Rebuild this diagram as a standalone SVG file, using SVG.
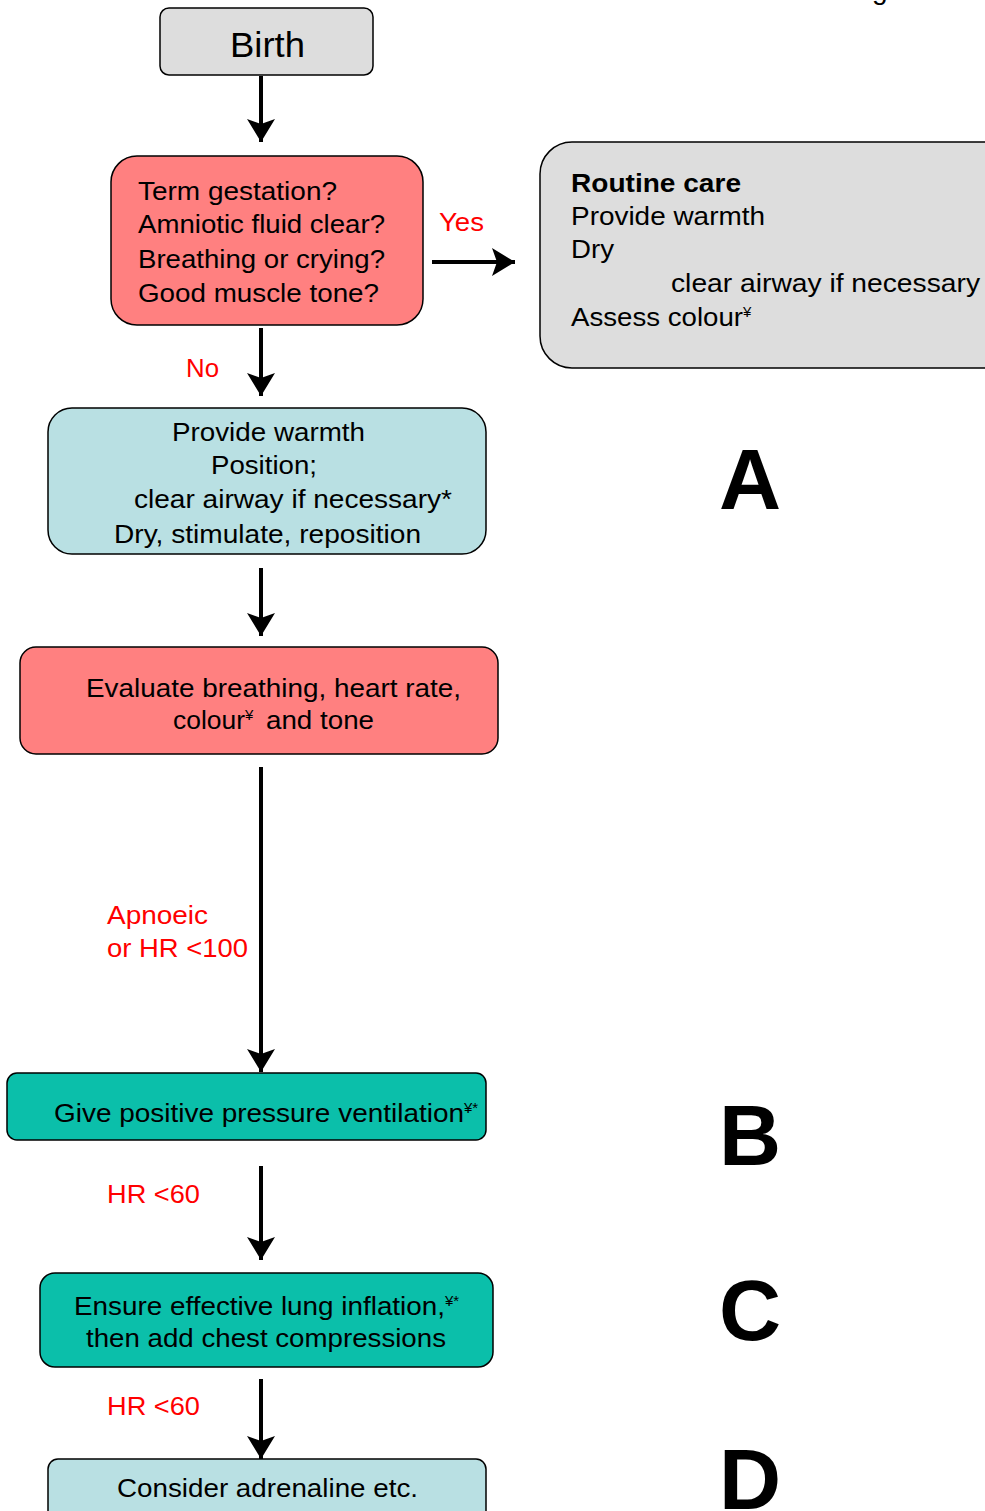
<svg xmlns="http://www.w3.org/2000/svg" width="985" height="1511" viewBox="0 0 985 1511">
<style>
text{font-family:"Liberation Sans",Arial,sans-serif;fill:#000;}
.t{font-size:26px;}
.r{fill:#ff0000;font-size:26px;}
.big{font-size:86px;font-weight:bold;}
.box{stroke:#000;stroke-width:1.5;}
.gray{fill:#dddddd;}
.red{fill:#ff8080;}
.blue{fill:#b9e0e3;}
.green{fill:#0bbfaa;}
.sup{font-size:15px;}
.conn{stroke:#000;stroke-width:4;fill:none;marker-end:url(#ah);}
</style>
<defs>
<marker id="ah" markerUnits="userSpaceOnUse" markerWidth="30" markerHeight="30" refX="23" refY="14" orient="auto">
<path d="M0,0 L23,14 L0,28 L5,14 Z" fill="#000"/>
</marker>
</defs>
<rect width="985" height="1511" fill="#fff"/>
<text x="872" y="-1" style="font-size:28px">g</text>

<g id="connectors">
<line class="conn" x1="261" y1="76" x2="261" y2="142"/>
<line class="conn" x1="432" y1="262" x2="515" y2="262"/>
<line class="conn" x1="261" y1="328" x2="261" y2="396"/>
<line class="conn" x1="261" y1="568" x2="261" y2="636"/>
<line class="conn" x1="261" y1="767" x2="261" y2="1072"/>
<line class="conn" x1="261" y1="1166" x2="261" y2="1260"/>
<line class="conn" x1="261" y1="1379" x2="261" y2="1459"/>
<text class="r" x="439" y="231" textLength="45" lengthAdjust="spacingAndGlyphs">Yes</text>
<text class="r" x="186" y="377" textLength="33" lengthAdjust="spacingAndGlyphs">No</text>
<text class="r" x="107" y="924" textLength="101" lengthAdjust="spacingAndGlyphs">Apnoeic</text>
<text class="r" x="107" y="957" textLength="141" lengthAdjust="spacingAndGlyphs">or HR &lt;100</text>
<text class="r" x="107" y="1203" textLength="93" lengthAdjust="spacingAndGlyphs">HR &lt;60</text>
<text class="r" x="107" y="1415" textLength="93" lengthAdjust="spacingAndGlyphs">HR &lt;60</text>
</g>

<g id="birth">
<rect class="box gray" x="160" y="8" width="213" height="67" rx="9"/>
<text x="230" y="57" style="font-size:35px" textLength="75" lengthAdjust="spacingAndGlyphs">Birth</text>
</g>

<g id="questions">
<rect class="box red" x="111" y="156" width="312" height="169" rx="26"/>
<text class="t" x="138" y="200" textLength="199" lengthAdjust="spacingAndGlyphs">Term gestation?</text>
<text class="t" x="138" y="233" textLength="247" lengthAdjust="spacingAndGlyphs">Amniotic fluid clear?</text>
<text class="t" x="138" y="268" textLength="247" lengthAdjust="spacingAndGlyphs">Breathing or crying?</text>
<text class="t" x="138" y="302" textLength="241" lengthAdjust="spacingAndGlyphs">Good muscle tone?</text>
</g>

<g id="routine">
<rect class="box gray" x="540" y="142" width="480" height="226" rx="32"/>
<text class="t" x="571" y="192" font-weight="bold" textLength="170" lengthAdjust="spacingAndGlyphs">Routine care</text>
<text class="t" x="571" y="225" textLength="194" lengthAdjust="spacingAndGlyphs">Provide warmth</text>
<text class="t" x="571" y="258" textLength="43" lengthAdjust="spacingAndGlyphs">Dry</text>
<text class="t" x="671" y="292" textLength="309" lengthAdjust="spacingAndGlyphs">clear airway if necessary</text>
<text class="t" x="571" y="326"><tspan textLength="172" lengthAdjust="spacingAndGlyphs">Assess colour</tspan><tspan class="sup" dy="-9">¥</tspan></text>
</g>

<g id="initial">
<rect class="box blue" x="48" y="408" width="438" height="146" rx="24"/>
<text class="t" x="172" y="441" textLength="193" lengthAdjust="spacingAndGlyphs">Provide warmth</text>
<text class="t" x="211" y="474" textLength="106" lengthAdjust="spacingAndGlyphs">Position;</text>
<text class="t" x="134" y="508" textLength="318" lengthAdjust="spacingAndGlyphs">clear airway if necessary*</text>
<text class="t" x="114" y="543" textLength="307" lengthAdjust="spacingAndGlyphs">Dry, stimulate, reposition</text>
</g>

<g id="evaluate">
<rect class="box red" x="20" y="647" width="478" height="107" rx="16"/>
<text class="t" x="86" y="697" textLength="375" lengthAdjust="spacingAndGlyphs">Evaluate breathing, heart rate,</text>
<text class="t" x="173" y="729"><tspan textLength="72" lengthAdjust="spacingAndGlyphs">colour</tspan><tspan class="sup" dy="-9">¥</tspan><tspan x="266" dy="9" textLength="108" lengthAdjust="spacingAndGlyphs">and tone</tspan></text>
</g>

<g id="ppv">
<rect class="box green" x="7" y="1073" width="479" height="67" rx="10"/>
<text class="t" x="54" y="1122"><tspan textLength="410" lengthAdjust="spacingAndGlyphs">Give positive pressure ventilation</tspan><tspan class="sup" dy="-9">¥*</tspan></text>
</g>

<g id="compressions">
<rect class="box green" x="40" y="1273" width="453" height="94" rx="15"/>
<text class="t" x="74" y="1315"><tspan textLength="371" lengthAdjust="spacingAndGlyphs">Ensure effective lung inflation,</tspan><tspan class="sup" dy="-9">¥*</tspan></text>
<text class="t" x="86" y="1347" textLength="360" lengthAdjust="spacingAndGlyphs">then add chest compressions</text>
</g>

<g id="adrenaline">
<rect class="box blue" x="48" y="1459" width="438" height="80" rx="10"/>
<text class="t" x="117" y="1497" textLength="301" lengthAdjust="spacingAndGlyphs">Consider adrenaline etc.</text>
</g>

<g id="labels">
<text class="big" x="719" y="509">A</text>
<text class="big" x="719" y="1165">B</text>
<text class="big" x="719" y="1340">C</text>
<text class="big" x="719" y="1509">D</text>
</g>
</svg>
